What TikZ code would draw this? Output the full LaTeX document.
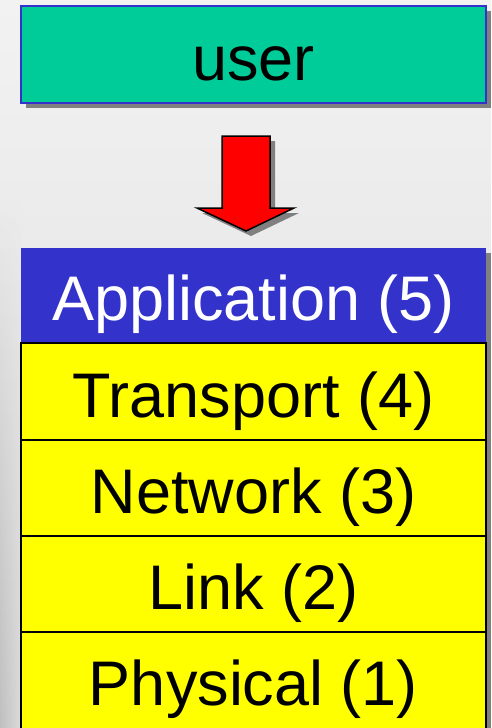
\documentclass[tikz,border=0pt]{standalone}
\usepackage{fontspec}
\setmainfont{Liberation Sans}
\usetikzlibrary{fadings}
\definecolor{userfill}{HTML}{00CC99}
\definecolor{appblue}{HTML}{3333CC}
\definecolor{shadowgray}{HTML}{808080}
\definecolor{layeryellow}{HTML}{FFFF00}
\definecolor{arrowred}{HTML}{FF0000}
\definecolor{bgtop}{HTML}{F2F2F2}
\definecolor{bgbot}{HTML}{DCDCDC}
\definecolor{edgedark}{HTML}{C0C0C0}
\tikzfading[name=vfade, top color=transparent!100, bottom color=transparent!0]
\begin{document}
\begin{tikzpicture}[x=1pt,y=-1pt,
  lbl/.style={font=\fontsize{63}{70}\selectfont, inner sep=0pt, anchor=base},
  layerbox/.style={draw=black, line width=1.5pt, fill=layeryellow}]
\useasboundingbox (0,0) rectangle (491,728);
\shade[top color=bgtop, bottom color=bgbot] (0,0) rectangle (491,728);
\shade[left color=edgedark, right color=bgbot, path fading=vfade] (0,200) rectangle (22,728);
% user box
\fill[shadowgray] (26,11) rectangle (491,108);
\draw[draw=appblue, line width=1.5pt, fill=userfill] (21,6) rectangle (486,103);
\node[lbl] (user) at (253.5,80) {user};
% arrow
\fill[shadowgray] (227,141) -- (275,141) -- (275,213) -- (299,213) -- (251,236) -- (202,213) -- (227,213) -- cycle;
\draw[fill=arrowred, line width=1.5pt, line join=miter] (222,136) -- (270,136) -- (270,208) -- (294,208) -- (246,231) -- (197,208) -- (222,208) -- cycle;
% stack shadow
\fill[shadowgray] (26,253) rectangle (491,728);
% application
\fill[appblue] (21,248) rectangle (486,343);
\node[lbl, text=white] (app) at (253.5,320) {Application (5)};
% layers
\draw[layerbox] (21,343) rectangle (486,440);
\node[lbl] (transport) at (253.5,417) {Transport (4)};
\draw[layerbox] (21,440) rectangle (486,536);
\node[lbl] (network) at (253.5,513) {Network (3)};
\draw[layerbox] (21,536) rectangle (486,632);
\node[lbl] (link) at (253.5,609) {Link (2)};
\draw[layerbox] (21,632) rectangle (486,740);
\node[lbl] (physical) at (253.5,705) {Physical (1)};
\end{tikzpicture}
\end{document}
